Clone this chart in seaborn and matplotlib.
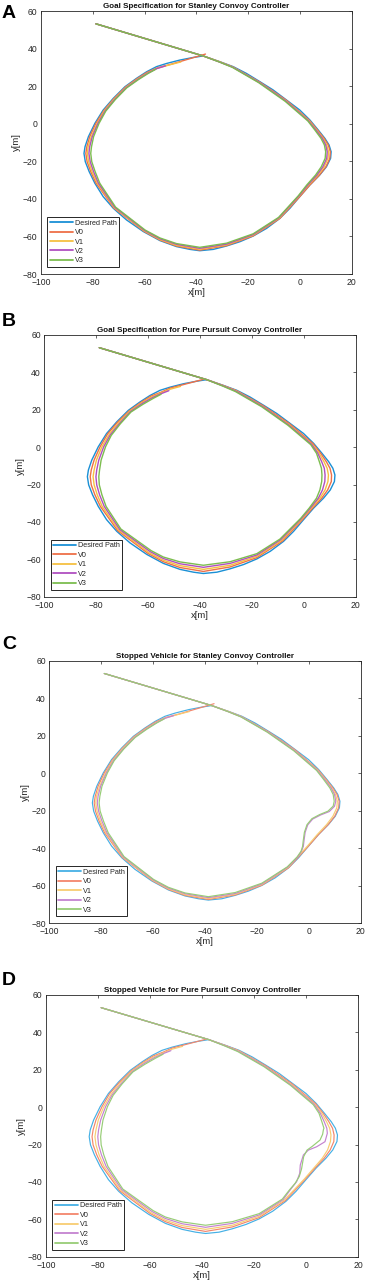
import matplotlib
matplotlib.use("Agg")
import matplotlib.pyplot as plt
import seaborn as sns

# ---- shared data -------------------------------------------------------
SERIES = ["Desired Path", "V0", "V1", "V2", "V3"]
TITLES = [
    "Goal Specification for Stanley Convoy Controller",
    "Goal Specification for Pure Pursuit Convoy Controller",
    "Stopped Vehicle for Stanley Convoy Controller",
    "Stopped Vehicle for Pure Pursuit Convoy Controller",
]
PANEL_LETTERS = ["A", "B", "C", "D"]
X_TICKS = [-100, -80, -60, -40, -20, 0, 20]
Y_TICKS = [-80, -60, -40, -20, 0, 20, 40, 60]

# straight lead-in, common to every path
LEAD_X = [-78.8, -37.4]
LEAD_Y = [53.2, 36.1]

# desired loop (clockwise, back to the apex)
DES_X = [-30.9, -25.8, -20.7, -15.5, -10.4, -5.2, -0.1, 3.8, 7.0, 9.6, 11.2, 12.0, 11.8,
         10.2, 7.6, 3.8, -0.1, -3.9, -7.8, -12.9, -18.1, -23.2, -28.4, -33.5, -38.7,
         -42.5, -47.7, -54.1, -60.5, -67.0, -72.1, -76.0, -79.2, -81.4, -82.9, -83.4,
         -83.0, -81.7, -79.2, -76.0, -72.1, -67.6, -63.1, -59.2, -55.4, -51.5, -46.4,
         -41.2, -37.4]
DES_Y = [33.0, 30.4, 26.8, 22.4, 18.0, 12.6, 7.3, 2.0, -3.3, -7.8, -11.3, -14.9, -18.4,
         -22.9, -27.3, -32.6, -38.8, -45.0, -50.4, -55.7, -59.8, -62.8, -65.1, -66.9, -67.6,
         -66.9, -65.4, -62.2, -57.4, -51.2, -45.0, -38.8, -31.7, -25.5, -20.2, -15.8,
         -12.2, -6.9, 0.2, 7.3, 13.5, 19.7, 24.2, 27.7, 30.4, 32.1, 33.9,
         35.3, 36.1]

# ---- Stanley, goal specification (A) ------------------------------------
A_V0_X = [-30.9, -25.9, -15.6, -5.3, 3.6, 6.7, 9.3, 10.9, 11.7, 11.5, 10.0, 7.5, 3.8, -0.1,
          -7.8, -18.1, -28.4, -38.7, -47.7, -54.1, -60.3, -71.9, -78.7, -80.8, -82.2, -82.7,
          -82.3, -81.2, -78.8, -75.7, -71.9, -67.4, -62.9, -59.0, -55.0, -50.0, -36.5]
A_V0_Y = [32.9, 30.2, 22.2, 12.5, 1.8, -3.3, -7.8, -11.3, -14.9, -18.4, -22.9, -27.3, -32.6,
          -38.8, -50.4, -59.7, -64.9, -67.3, -65.1, -61.9, -57.2, -44.8, -31.7, -25.5, -20.2,
          -15.8, -12.2, -6.9, 0.2, 7.1, 13.3, 19.5, 24.0, 27.4, 29.8, 31.6, 37.1]
A_V1_X = [-30.9, -26.0, -15.8, -5.5, 3.4, 6.4, 8.9, 10.3, 11.0, 10.8, 9.3, 6.9, 3.3, -0.4,
          -8.0, -18.1, -28.4, -38.7, -47.7, -54.1, -60.2, -71.7, -78.2, -80.3, -81.6, -82.1,
          -81.8, -80.6, -78.3, -75.5, -71.7, -67.2, -62.7, -58.8, -55.2, -50.5, -46.0]
A_V1_Y = [32.9, 30.2, 22.1, 12.3, 1.7, -3.3, -7.8, -11.3, -14.9, -18.4, -22.9, -27.3, -32.6,
          -38.6, -50.2, -59.3, -64.5, -66.8, -64.7, -61.6, -57.0, -44.7, -31.7, -25.5, -20.2,
          -15.8, -12.2, -6.9, 0.2, 7.0, 13.2, 19.4, 23.8, 27.1, 29.5, 31.3, 32.9]
A_V2_HEAD_X = [-31.0, -26.0, -15.8, -5.6, 3.2, 6.1, 8.6, 9.9]
A_V2_HEAD_Y = [32.8, 30.1, 22.0, 12.2, 1.6, -3.3, -7.8, -11.3]
A_V2_RIGHT_X = [10.5, 10.3, 8.8, 6.5, 3.0, -0.5]
A_V2_RIGHT_Y = [-14.9, -18.4, -22.9, -27.3, -32.6, -38.5]
A_V2_TAIL_X = [-8.2, -18.1, -28.4, -38.7, -47.7, -54.1, -60.0, -71.5, -77.8, -79.7, -81.0,
               -81.5, -81.2, -80.2, -78.0, -75.2, -71.5, -67.1, -62.6, -58.7, -55.4, -52.0]
A_V2_TAIL_Y = [-50.1, -59.0, -64.1, -66.3, -64.2, -61.2, -56.8, -44.5, -31.7, -25.5, -20.2,
               -15.8, -12.2, -6.9, 0.2, 6.9, 13.0, 19.2, 23.6, 27.0, 29.3, 30.8]
A_V3_HEAD_X = [-31.0, -26.1, -16.0, -5.8, 3.0, 5.7, 8.1, 9.4]
A_V3_HEAD_Y = [32.8, 30.0, 21.9, 12.0, 1.5, -3.3, -7.8, -11.3]
A_V3_RIGHT_X = [9.9, 9.7, 8.2, 6.0, 2.6, -0.7]
A_V3_RIGHT_Y = [-14.9, -18.4, -22.9, -27.3, -32.6, -38.4]
A_V3_TAIL_X = [-8.3, -18.1, -28.4, -38.7, -47.7, -54.1, -59.8, -71.2, -77.3, -79.1, -80.4,
               -80.8, -80.5, -79.7, -77.6, -75.0, -71.3, -66.9, -62.4, -58.6, -55.7]
A_V3_TAIL_Y = [-49.9, -58.6, -63.6, -65.8, -63.8, -60.8, -56.6, -44.4, -31.7, -25.5, -20.2,
               -15.8, -12.2, -6.9, 0.2, 6.7, 12.9, 19.1, 23.5, 26.8, 29.0]

# ---- Pure pursuit, goal specification (B) -------------------------------
B_V0_X = [-30.9, -25.9, -15.7, -5.4, 3.6, 6.5, 8.7, 10.1, 10.7, 10.6, 9.2, 6.9, 3.4, -0.4,
          -8.1, -18.1, -28.4, -38.7, -47.7, -54.1, -60.0, -71.7, -78.4, -80.5, -81.9, -82.3,
          -81.9, -80.8, -78.5, -75.6, -71.8, -67.3, -62.8, -58.9, -55.0, -51.5, -38.6]
B_V0_Y = [32.9, 30.2, 22.2, 12.4, 1.8, -3.3, -7.8, -11.3, -14.9, -18.4, -22.9, -27.3, -32.6,
          -38.6, -50.1, -59.1, -64.1, -66.5, -64.4, -61.3, -56.9, -44.7, -31.7, -25.5, -20.2,
          -15.8, -12.2, -6.9, 0.2, 7.1, 13.3, 19.4, 23.9, 27.3, 29.4, 31.6, 36.3]
B_V1_X = [-31.0, -26.0, -15.9, -5.7, 3.2, 5.9, 7.8, 9.0, 9.5, 9.3, 8.2, 6.2, 2.9, -0.7,
          -8.5, -18.1, -28.4, -38.7, -47.7, -54.1, -59.7, -71.3, -77.7, -79.6, -80.8, -81.2,
          -80.8, -79.9, -77.8, -75.0, -71.4, -67.1, -62.6, -58.6, -55.0, -51.5, -47.5]
B_V1_Y = [32.8, 30.1, 21.9, 12.1, 1.6, -3.3, -7.8, -11.3, -14.9, -18.4, -22.9, -27.3, -32.6,
          -38.4, -49.8, -58.4, -63.2, -65.4, -63.4, -60.5, -56.4, -44.4, -31.7, -25.5, -20.2,
          -15.8, -12.2, -6.9, 0.2, 6.8, 13.0, 19.2, 23.6, 26.9, 29.0, 31.0, 32.5]
B_V2_HEAD_X = [-31.0, -26.1, -16.0, -5.9, 3.0, 5.4, 6.9, 7.9]
B_V2_HEAD_Y = [32.7, 29.9, 21.8, 11.9, 1.5, -3.3, -7.8, -11.3]
B_V2_RIGHT_X = [8.2, 8.1, 7.2, 5.6, 2.5, -1.0]
B_V2_RIGHT_Y = [-14.9, -18.4, -22.9, -27.3, -32.6, -38.3]
B_V2_TAIL_X = [-8.9, -18.1, -28.4, -38.7, -47.7, -54.1, -59.2, -70.9, -76.9, -78.7, -79.8,
               -80.1, -79.8, -79.0, -77.1, -74.6, -71.0, -66.8, -62.3, -58.3, -55.0, -52.0]
B_V2_TAIL_Y = [-49.5, -57.7, -62.2, -64.3, -62.4, -59.6, -55.9, -44.1, -31.7, -25.5, -20.2,
               -15.8, -12.2, -6.9, 0.2, 6.5, 12.7, 19.0, 23.3, 26.5, 28.6, 30.2]
B_V3_HEAD_X = [-31.1, -26.3, -16.2, -6.1, 2.7, 4.9, 6.0, 6.8]
B_V3_HEAD_Y = [32.6, 29.7, 21.6, 11.7, 1.3, -3.3, -7.8, -11.3]
B_V3_RIGHT_X = [7.0, 6.9, 6.2, 4.9, 2.1, -1.2]
B_V3_RIGHT_Y = [-14.9, -18.4, -22.9, -27.3, -32.6, -38.1]
B_V3_TAIL_X = [-9.2, -18.1, -28.4, -38.7, -47.7, -54.1, -58.8, -70.5, -76.2, -77.8, -78.8,
               -79.0, -78.7, -78.1, -76.4, -74.2, -70.7, -66.6, -62.0, -58.0, -55.0]
B_V3_TAIL_Y = [-49.2, -57.0, -61.3, -63.2, -61.4, -58.8, -55.4, -43.8, -31.7, -25.5, -20.2,
               -15.8, -12.2, -6.9, 0.2, 6.3, 12.5, 18.8, 22.9, 26.1, 28.3]

# ---- stopped vehicle detours on the right side (C and D) ----------------
C_V2_STOP_X = [10.4, 9.9, 7.9, 4.6, 1.5, -0.4, -1.4, -1.8, -2.1, -2.8, -4.3]
C_V2_STOP_Y = [-14.9, -17.6, -20.4, -22.2, -24.4, -27.5, -31.5, -35.5, -39.0, -41.5, -44.7]
C_V3_STOP_X = [9.8, 9.4, 7.4, 4.2, 1.2, -0.7, -1.7, -2.1, -2.4, -3.0, -4.5]
C_V3_STOP_Y = [-14.9, -17.5, -20.2, -22.0, -24.2, -27.4, -31.5, -35.5, -39.0, -41.6, -44.6]
D_V2_STOP_X = [8.1, 7.2, 4.0, 0.8, -1.1, -2.3, -2.5, -3.7, -6.0]
D_V2_STOP_Y = [-14.0, -18.5, -21.2, -23.0, -25.6, -31.0, -35.4, -39.9, -44.0]
D_V3_STOP_X = [6.6, 6.3, 5.3, 2.3, 0.3, -1.0, -1.8, -2.7, -4.3, -6.4]
D_V3_STOP_Y = [-12.0, -14.5, -17.6, -21.0, -23.0, -26.5, -33.0, -37.2, -40.8, -44.2]

COLORS_AB = ["#1a90d5", "#ee7048", "#f6c042", "#b04fc0", "#7cbd4f"]
COLORS_CD = ["#45b0e5", "#f3866c", "#f8cd72", "#c482d0", "#97cd76"]


def path(*parts):
    xs, ys = list(LEAD_X), list(LEAD_Y)
    for px, py in parts:
        xs += px
        ys += py
    return xs, ys


panel_paths = [
    [path((DES_X, DES_Y)), path((A_V0_X, A_V0_Y)), path((A_V1_X, A_V1_Y)),
     path((A_V2_HEAD_X, A_V2_HEAD_Y), (A_V2_RIGHT_X, A_V2_RIGHT_Y), (A_V2_TAIL_X, A_V2_TAIL_Y)),
     path((A_V3_HEAD_X, A_V3_HEAD_Y), (A_V3_RIGHT_X, A_V3_RIGHT_Y), (A_V3_TAIL_X, A_V3_TAIL_Y))],
    [path((DES_X, DES_Y)), path((B_V0_X, B_V0_Y)), path((B_V1_X, B_V1_Y)),
     path((B_V2_HEAD_X, B_V2_HEAD_Y), (B_V2_RIGHT_X, B_V2_RIGHT_Y), (B_V2_TAIL_X, B_V2_TAIL_Y)),
     path((B_V3_HEAD_X, B_V3_HEAD_Y), (B_V3_RIGHT_X, B_V3_RIGHT_Y), (B_V3_TAIL_X, B_V3_TAIL_Y))],
    [path((DES_X, DES_Y)), path((A_V0_X, A_V0_Y)), path((A_V1_X, A_V1_Y)),
     path((A_V2_HEAD_X, A_V2_HEAD_Y), (C_V2_STOP_X, C_V2_STOP_Y), (A_V2_TAIL_X, A_V2_TAIL_Y)),
     path((A_V3_HEAD_X, A_V3_HEAD_Y), (C_V3_STOP_X, C_V3_STOP_Y), (A_V3_TAIL_X, A_V3_TAIL_Y))],
    [path((DES_X, DES_Y)), path((B_V0_X, B_V0_Y)), path((B_V1_X, B_V1_Y)),
     path((B_V2_HEAD_X, B_V2_HEAD_Y), (D_V2_STOP_X, D_V2_STOP_Y), (B_V2_TAIL_X, B_V2_TAIL_Y)),
     path((B_V3_HEAD_X, B_V3_HEAD_Y), (D_V3_STOP_X, D_V3_STOP_Y), (B_V3_TAIL_X, B_V3_TAIL_Y))],
]

# ---- figure ---------------------------------------------------------------
sns.set_theme(style="white")
plt.rcParams["font.family"] = ["Liberation Sans", "DejaVu Sans"]

fig = plt.figure(figsize=(3.67, 12.84), dpi=100)
axes_rects = [
    [0.1117, 0.7866, 0.8470, 0.2048],
    [0.1207, 0.5353, 0.8485, 0.2038],
    [0.1343, 0.2809, 0.8485, 0.2045],
    [0.1253, 0.0213, 0.8510, 0.2038],
]
letter_y = [0.9961, 0.7562, 0.5047, 0.2430]
frame_color = "#262626"

for i, rect in enumerate(axes_rects):
    ax = fig.add_axes(rect)
    colors = COLORS_AB if i < 2 else COLORS_CD
    lw = 1.0 if i < 2 else 0.85
    handles = []
    for name, (xs, ys), c in zip(SERIES, panel_paths[i], colors):
        sns.lineplot(x=xs, y=ys, sort=False, estimator=None, color=c, lw=lw,
                     label=name, ax=ax)
        handles.append(ax.get_lines()[-1])

    ax.set_xlim(-100, 20)
    ax.set_ylim(-80, 60)
    ax.set_xticks(X_TICKS)
    ax.set_yticks(Y_TICKS)
    ax.set_xlabel("x[m]", fontsize=6.8, labelpad=0.5, color=frame_color)
    ax.set_ylabel("y[m]", fontsize=6.8, labelpad=1, color=frame_color)
    ax.set_title(TITLES[i], fontsize=5.8, fontweight="bold", pad=2, color="#111111")
    ax.tick_params(direction="in", length=2.5, width=0.5, top=True, right=True,
                   labelsize=6.2, colors=frame_color)
    ax.tick_params(axis="x", pad=3)
    ax.tick_params(axis="y", pad=2.5)
    for sp in ax.spines.values():
        sp.set_linewidth(0.6)
        sp.set_color(frame_color)

    leg = ax.legend(handles=handles, labels=SERIES, loc="lower left",
                    bbox_to_anchor=(0.02, 0.027), borderaxespad=0,
                    fontsize=5.2, handlelength=3.2, handletextpad=0.25, labelspacing=0.33,
                    borderpad=0.35, fancybox=False, framealpha=1)
    leg.get_frame().set_edgecolor(frame_color)
    leg.get_frame().set_linewidth(0.7)
    for ln in leg.get_lines():
        ln.set_linewidth(1.3)

    fig.text(0.005, letter_y[i], PANEL_LETTERS[i], fontsize=14, fontweight="bold",
             va="top", ha="left", color="black")

fig.savefig("out.png", dpi=100)
